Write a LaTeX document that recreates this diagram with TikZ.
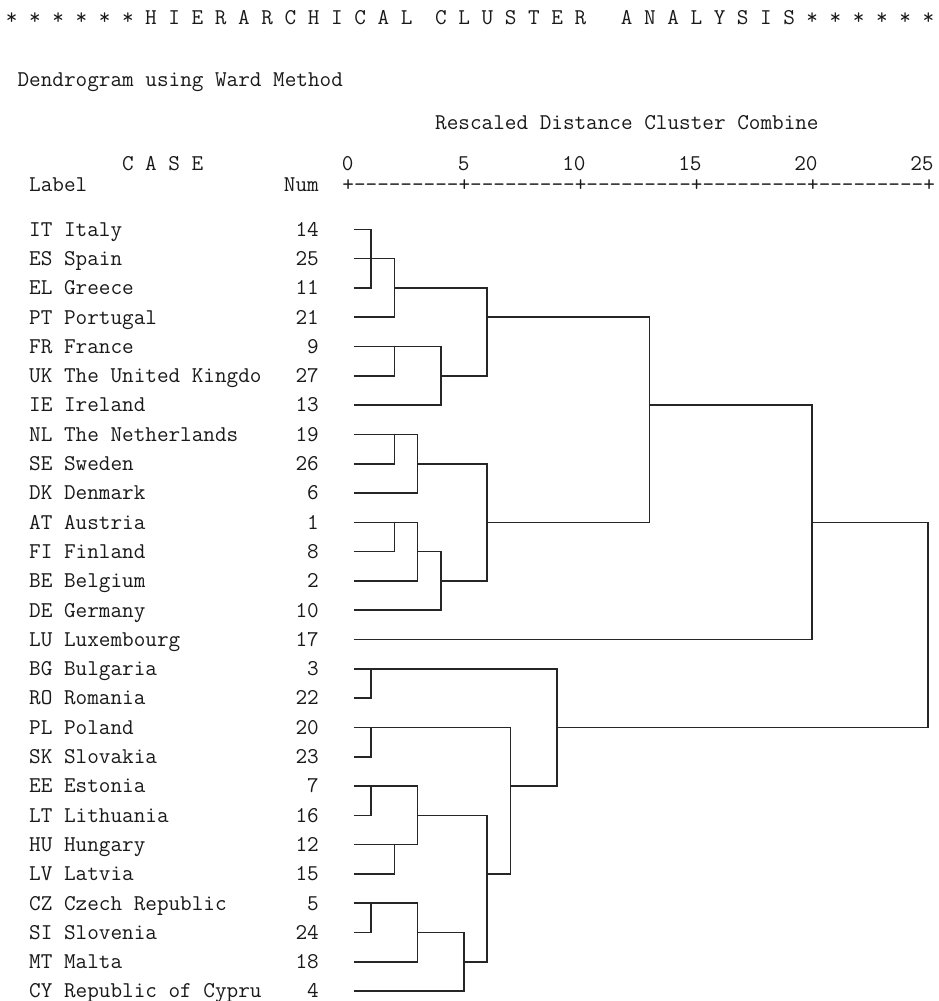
\documentclass[tikz,border=0pt]{standalone}
\usepackage{tikz}

\begin{document}
\begin{tikzpicture}[x=1pt, y=-1pt]
    \tikzstyle{out_text} = [font=\ttfamily\fontsize{22.56}{27}\selectfont, inner sep=0pt, text=black!90]
    \tikzstyle{case_text} = [out_text, anchor=base west, yshift=-6.8pt]
    \tikzstyle{link_style} = [line width=1.6pt, black!85]

    \def\cw{11.6pt}
    \def\rowh{29.3pt}

    \useasboundingbox (0,0) rectangle (938,1001);

    % header lines, one character cell = 1 unit
    \begin{scope}[xshift=348pt, x=\cw]
      \node[out_text, anchor=base west] (stars_l) at (-29.5,24) {* * * * * *};
      \node[out_text, anchor=base west] (title_a) at (-17.5,24) {H I E R A R C H I C A L};
      \node[out_text, anchor=base west] (title_b) at (7.5,24) {C L U S T E R};
      \node[out_text, anchor=base west] (title_c) at (23.5,24) {A N A L Y S I S};
      \node[out_text, anchor=base west] (stars_r) at (39.5,24) {* * * * * *};

      \node[out_text, anchor=base west] (method) at (-28.5,86) {Dendrogram using Ward Method};
      \node[out_text, anchor=base west] (rescaled) at (7.5,129) {Rescaled Distance Cluster Combine};
      \node[out_text, anchor=base west] (case_head) at (-19.5,170) {C A S E};
      \node[out_text, anchor=base west] (label_head) at (-27.5,191) {Label};
      \node[out_text, anchor=base east] (num_head) at (-2.5,191) {Num};

      \foreach \v [count=\i from 0] in {0,5,10,15,20,25}
        \node[out_text, anchor=base east] (scale\i) at (10*\i+0.5,170) {\v};
      \node[out_text, anchor=base west] (axis) at (-0.5,191)
        {+---------+---------+---------+---------+---------+};
    \end{scope}

    % cases and dendrogram: x = character cell, y = row
    \begin{scope}[xshift=348pt, yshift=-229.3pt, x=\cw, y=-\rowh]
      \foreach \r/\lab/\num in {0/IT Italy/14, 1/ES Spain/25, 2/EL Greece/11,
          3/PT Portugal/21, 4/FR France/9, 5/UK The United Kingdo/27,
          6/IE Ireland/13, 7/NL The Netherlands/19, 8/SE Sweden/26,
          9/DK Denmark/6, 10/AT Austria/1, 11/FI Finland/8, 12/BE Belgium/2,
          13/DE Germany/10, 14/LU Luxembourg/17, 15/BG Bulgaria/3,
          16/RO Romania/22, 17/PL Poland/20, 18/SK Slovakia/23,
          19/EE Estonia/7, 20/LT Lithuania/16, 21/HU Hungary/12,
          22/LV Latvia/15, 23/CZ Czech Republic/5, 24/SI Slovenia/24,
          25/MT Malta/18, 26/CY Republic of Cypru/4}
      {
        \node[case_text] (case\r) at (-27.5,\r) {\lab};
        \node[case_text, anchor=base east] (num\r) at (-2.5,\r) {\num};
      }

      \draw[link_style] (0.5,0) -| (2,2) -- (0.5,2);
      \draw[link_style] (0.5,1) -| (4,3) -- (0.5,3);
      \draw[link_style] (0.5,5) -| (4,4);
      \draw[link_style] (0.5,4) -| (8,6) -- (0.5,6);
      \draw[link_style] (4,2) -| (12,5) -- (8,5);
      \draw[link_style] (12,3) -| (26,10) -- (12,10);

      \draw[link_style] (0.5,8) -| (4,7);
      \draw[link_style] (0.5,7) -| (6,9) -- (0.5,9);
      \draw[link_style] (0.5,11) -| (4,10);
      \draw[link_style] (0.5,10) -| (6,12) -- (0.5,12);
      \draw[link_style] (6,11) -| (8,13) -- (0.5,13);
      \draw[link_style] (6,8) -| (12,12) -- (8,12);

      \draw[link_style] (26,6) -| (40,14) -- (0.5,14);
      \draw[link_style] (40,10) -| (50,17) -- (18,17);

      \draw[link_style] (0.5,16) -| (2,15);
      \draw[link_style] (0.5,15) -| (18,19) -- (14,19);
      \draw[link_style] (0.5,18) -| (2,17);
      \draw[link_style] (0.5,17) -| (14,22) -- (12,22);
      \draw[link_style] (0.5,20) -| (2,19);
      \draw[link_style] (0.5,19) -| (6,21) -- (0.5,21);
      \draw[link_style] (0.5,22) -| (4,21);
      \draw[link_style] (6,20) -| (12,25) -- (10,25);
      \draw[link_style] (0.5,24) -| (2,23);
      \draw[link_style] (0.5,23) -| (6,25) -- (0.5,25);
      \draw[link_style] (6,24) -| (10,26) -- (0.5,26);
    \end{scope}
\end{tikzpicture}
\end{document}
